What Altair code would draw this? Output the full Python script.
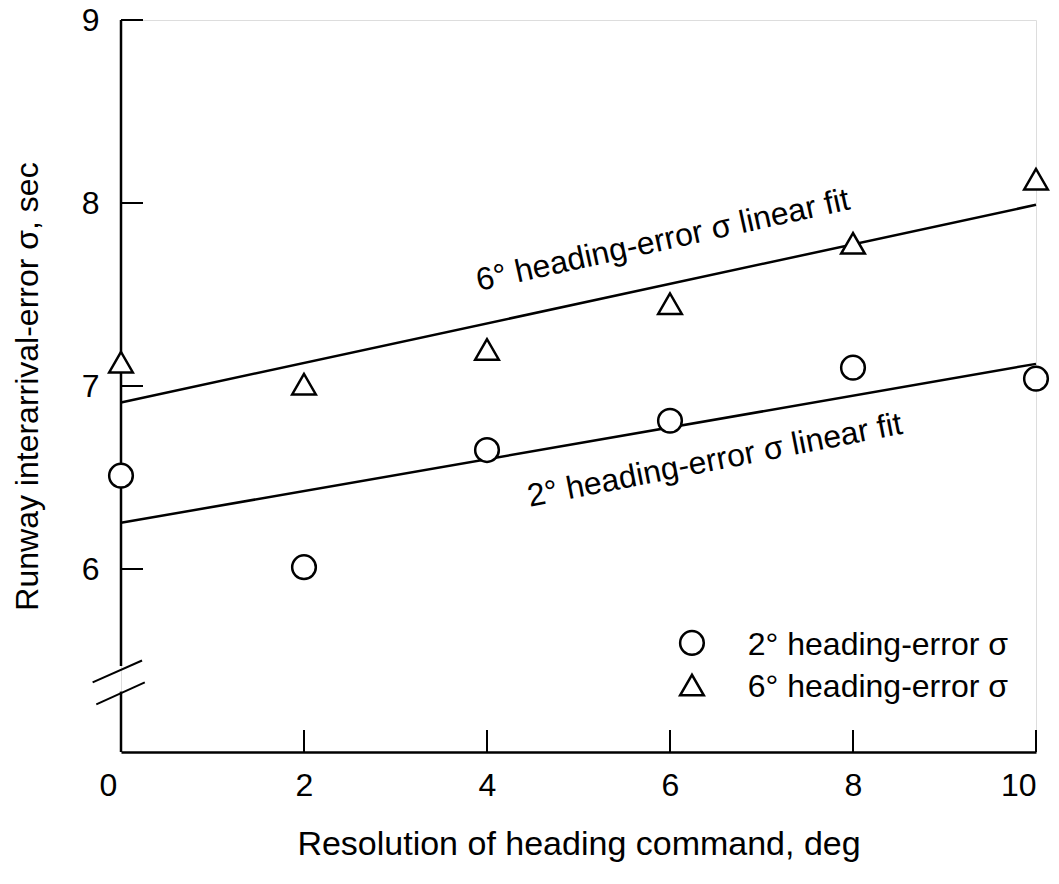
import altair as alt
import pandas as pd

# Resolution of the heading command (deg) and the measured interarrival-error sigma (sec)
resolution_deg = [0, 2, 4, 6, 8, 10]
sigma_2deg = [6.51, 6.01, 6.65, 6.81, 7.10, 7.04]
sigma_6deg = [7.13, 7.01, 7.20, 7.45, 7.78, 8.13]

series_names = ["2° heading-error σ", "6° heading-error σ"]
series_shapes = ["circle", "triangle-up"]
fit_names = ["2° heading-error σ linear fit", "6° heading-error σ linear fit"]

x_ticks = [0, 2, 4, 6, 8, 10]
y_ticks = [6, 7, 8, 9]
x_inner_ticks = [2, 4, 6, 8, 10]

# y-axis line pieces either side of the broken-scale gap
axis_pieces_lo = [5.0, 5.47]
axis_pieces_hi = [5.33, 9.0]

FONT = "Liberation Sans"
W, H = 915, 732
LW = 2.5
TICK = 22
SYMBOL = 560

points = pd.DataFrame({
    "res": resolution_deg * 2,
    "sigma": sigma_2deg + sigma_6deg,
    "series": [series_names[0]] * len(resolution_deg) + [series_names[1]] * len(resolution_deg),
})

x_scale = alt.Scale(domain=[0, 10], nice=False, zero=False)
y_scale = alt.Scale(domain=[5, 9], nice=False, zero=False)
shape_scale = alt.Scale(domain=series_names, range=series_shapes)

x_axis = alt.Axis(
    values=x_ticks, format="d", grid=False, ticks=False, domain=True,
    domainColor="black", domainWidth=LW, labelFont=FONT, labelFontSize=32,
    labelColor="black", labelPadding=18,
    labelOffset={"condition": {"test": "datum.value === 0", "value": -22}, "value": 0},
    title="Resolution of heading command, deg", titleFont=FONT, titleFontSize=34,
    titleFontWeight="normal", titleColor="black", titlePadding=26,
)
y_axis = alt.Axis(
    values=y_ticks, format="d", grid=False, ticks=False, domain=False,
    labelFont=FONT, labelFontSize=32, labelColor="black", labelPadding=22,
    title="Runway interarrival-error  σ, sec", titleFont=FONT, titleFontSize=32,
    titleFontWeight="normal", titleColor="black", titlePadding=37,
)

X = alt.X("res:Q", scale=x_scale, axis=x_axis)
Y = alt.Y("sigma:Q", scale=y_scale, axis=y_axis)

# least-squares fit lines for each series
fits = (
    alt.Chart(points)
    .transform_regression("res", "sigma", groupby=["series"], extent=[0, 10])
    .mark_line(color="black", strokeWidth=LW)
    .encode(x=X, y=Y, detail="series:N")
)

markers = (
    alt.Chart(points)
    .mark_point(filled=True, fill="white", stroke="black", strokeWidth=LW, size=SYMBOL, opacity=1)
    .encode(x=X, y=Y, shape=alt.Shape("series:N", scale=shape_scale, legend=None))
)

# key in the lower right: symbol and its label
key_rows = pd.DataFrame({
    "series": series_names,
    "sigma": [5.596, 5.366],
    "res": [6.24, 6.24],
    "text_res": [6.85, 6.85],
    "text_sigma": [5.53, 5.30],
})
key_symbols = (
    alt.Chart(key_rows)
    .mark_point(filled=True, fill="white", stroke="black", strokeWidth=LW, size=SYMBOL, opacity=1)
    .encode(x=X, y=Y, shape=alt.Shape("series:N", scale=shape_scale, legend=None))
)
key_text = (
    alt.Chart(key_rows)
    .mark_text(font=FONT, fontSize=32, color="black", align="left", baseline="alphabetic")
    .encode(
        x=alt.X("text_res:Q", scale=x_scale, axis=x_axis),
        y=alt.Y("text_sigma:Q", scale=y_scale, axis=y_axis),
        text="series:N",
    )
)

# y-axis line, drawn in two pieces around the scale break
axis_line = (
    alt.Chart(pd.DataFrame({"sigma": axis_pieces_lo, "sigma2": axis_pieces_hi}))
    .mark_rule(color="black", strokeWidth=LW)
    .encode(x=alt.value(0), y=Y, y2="sigma2:Q")
)

# inward-pointing tick marks
y_tick_marks = (
    alt.Chart(pd.DataFrame({"sigma": y_ticks}))
    .mark_rule(color="black", strokeWidth=2)
    .encode(y=Y, x=alt.value(0), x2=alt.value(TICK))
)
x_tick_marks = (
    alt.Chart(pd.DataFrame({"res": x_inner_ticks}))
    .mark_rule(color="black", strokeWidth=2)
    .encode(x=X, y=alt.value(H), y2=alt.value(H - TICK))
)

# the two slashes marking the broken y scale
break_marks = (
    alt.Chart(pd.DataFrame({
        "res": [-0.31, -0.27], "res2": [0.23, 0.26],
        "sigma": [5.38, 5.26], "sigma2": [5.50, 5.38],
    }))
    .mark_rule(color="black", strokeWidth=2)
    .encode(x=X, x2="res2:Q", y=Y, y2="sigma2:Q")
)


def fit_label(text, res, sigma, angle):
    return (
        alt.Chart(pd.DataFrame({"res": [res], "sigma": [sigma], "label": [text]}))
        .mark_text(font=FONT, fontSize=32, color="black", align="center",
                   baseline="alphabetic", angle=angle)
        .encode(x=X, y=Y, text="label:N")
    )


labels = fit_label(fit_names[1], 5.945, 7.743, 347.6) + fit_label(fit_names[0], 6.51, 6.54, 348.9)

chart = (
    alt.layer(axis_line, y_tick_marks, x_tick_marks, break_marks, fits, markers,
              labels, key_symbols, key_text)
    .properties(width=W, height=H, autosize=alt.AutoSizeParams(type="none"),
                padding={"left": 121, "top": 20, "right": 23, "bottom": 132})
    .configure_view(stroke=None)
    .configure(background="white")
)

chart.save("out.html", embed_options={"renderer": "svg", "actions": False})
